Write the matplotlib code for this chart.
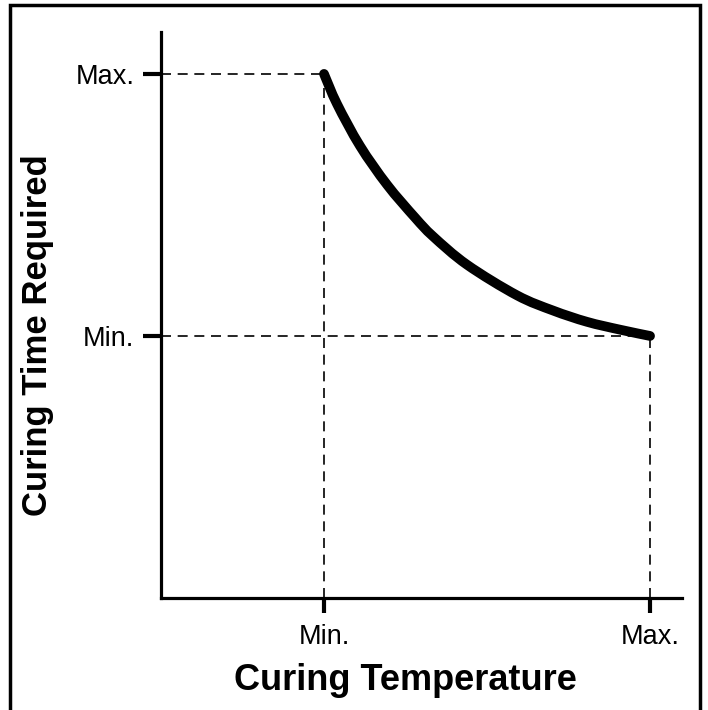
import matplotlib
matplotlib.use("Agg")
import matplotlib.pyplot as plt
from matplotlib.patches import Rectangle, PathPatch
from matplotlib.path import Path

plt.rcParams['font.family'] = ['Liberation Sans', 'DejaVu Sans']

# Curve (temperature vs curing time, arbitrary units)
temp = [1.0, 1.080, 1.221, 1.387, 1.558, 1.669, 1.877, 2.184, 2.405, 2.613, 2.816, 3.0]
time = [2.0, 1.885, 1.725, 1.577, 1.452, 1.380, 1.272, 1.155, 1.097, 1.054, 1.024, 1.0]

x_ticks = [1.0, 3.0]
x_tick_labels = ["Min.", "Max."]
y_ticks = [1.0, 2.0]
y_tick_labels = ["Min.", "Max."]
x_label = "Curing Temperature"
y_label = "Curing Time Required"

fig = plt.figure(figsize=(7.08, 7.10), dpi=100)
ax = fig.add_axes([161/708, 1-598/710, (682-161)/708, (598-32)/710])
ax.set_xlim(0, 3.196)
ax.set_ylim(0, 2.160)

# dashed guide lines
dash = (0, (6, 4))
for xt, yt in [(temp[0], time[0]), (temp[-1], time[-1])]:
    ax.plot([0, xt], [yt, yt], color='black', lw=1.2, linestyle=dash, zorder=2)
    ax.plot([xt, xt], [0, yt], color='black', lw=1.2, linestyle=dash, zorder=2)

# smooth curve through the read points (Catmull-Rom -> cubic Bezier segments)
pts = list(zip(temp, time))
verts = [pts[0]]
codes = [Path.MOVETO]
n = len(pts)
for i in range(n - 1):
    p0 = pts[i - 1] if i > 0 else pts[i]
    p1 = pts[i]
    p2 = pts[i + 1]
    p3 = pts[i + 2] if i + 2 < n else pts[i + 1]
    c1 = (p1[0] + (p2[0] - p0[0]) / 6, p1[1] + (p2[1] - p0[1]) / 6)
    c2 = (p2[0] - (p3[0] - p1[0]) / 6, p2[1] - (p3[1] - p1[1]) / 6)
    verts += [c1, c2, p2]
    codes += [Path.CURVE4] * 3
curve = PathPatch(Path(verts, codes), fill=False, edgecolor='black', lw=7,
                  capstyle='round', joinstyle='round', zorder=3)
ax.add_patch(curve)

for s in ['top', 'right']:
    ax.spines[s].set_visible(False)
for s in ['left', 'bottom']:
    ax.spines[s].set_linewidth(2.3)

ax.set_xticks(x_ticks)
ax.set_xticklabels(x_tick_labels, fontsize=19.5)
ax.set_yticks(y_ticks)
ax.set_yticklabels(y_tick_labels, fontsize=19.5)
ax.tick_params(axis='x', direction='out', length=11, width=3, pad=8)
ax.tick_params(axis='y', direction='out', length=13, width=3, pad=6)

fig.text(405/708, 1-680/710, x_label, ha='center', va='center',
         fontsize=26, fontweight='bold')
fig.text(38/708, 1-335/710, y_label, ha='center', va='center',
         fontsize=25, fontweight='bold', rotation=90)

# outer border
fig.patches.append(Rectangle((10/708, -0.05), (700-10)/708, 1.05 - 5/710,
                             transform=fig.transFigure, fill=False,
                             edgecolor='black', lw=2.5, zorder=0))

fig.savefig("out.png", dpi=100)
